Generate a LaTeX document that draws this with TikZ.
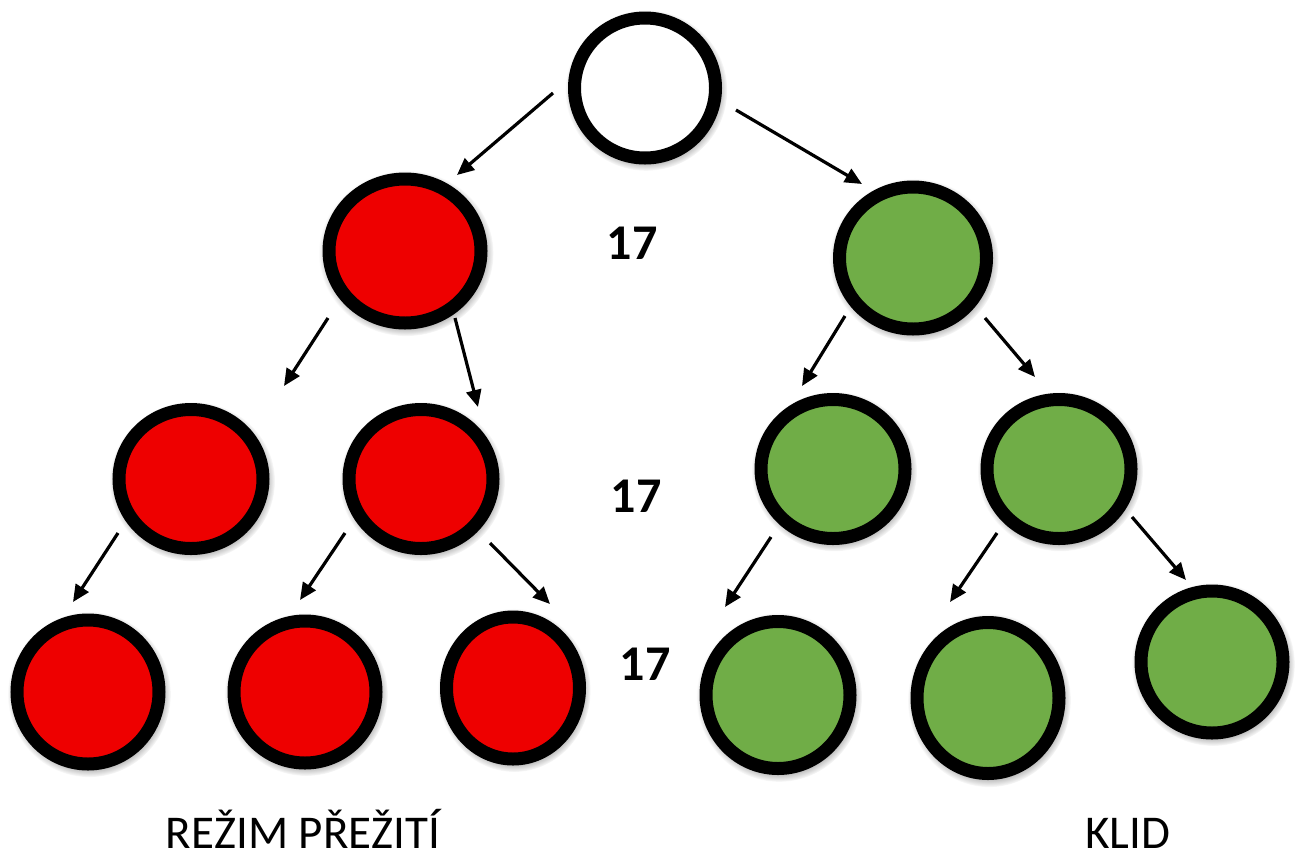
\documentclass[tikz,border=0pt]{standalone}
\usepackage{fontspec}
\setmainfont{Carlito}
\usetikzlibrary{shapes.geometric,shadows,arrows.meta,fadings}
\definecolor{nred}{HTML}{EE0000}
\definecolor{ngreen}{HTML}{70AD47}
\tikzset{
  ball/.style={ellipse, draw=black, line width=13pt, inner sep=0pt,
    circular drop shadow={shadow xshift=1pt, shadow yshift=-2pt, shadow scale=1.15, opacity=0.8}},
  redball/.style={ball, fill=nred},
  greenball/.style={ball, fill=ngreen},
  whiteball/.style={ball, fill=white},
  sz/.style 2 args={minimum width=#1pt, minimum height=#2pt},
  arr/.style={line width=3.2pt, -{Triangle[length=17pt,width=15pt]}},
  num/.style={font=\bfseries\fontsize{50}{54}\selectfont, inner sep=0pt},
  lbl/.style={font=\fontsize{47}{50}\selectfont, inner sep=0pt, anchor=base, text depth=0pt}
}
\begin{document}
\begin{tikzpicture}[x=1pt,y=-1pt]
\useasboundingbox (0,0) rectangle (1301,855);
% level 0
\node[whiteball, sz={141}{140}] (w) at (645,88) {};
% level 1
\node[redball, sz={152}{144}] (r1) at (405,251) {};
\node[greenball, sz={147}{142}] (g1) at (913,258) {};
% level 2
\node[redball, sz={144}{139}] (r2a) at (191,479) {};
\node[redball, sz={144}{139}] (r2b) at (421,479) {};
\node[greenball, sz={144}{139}] (g2a) at (833,469) {};
\node[greenball, sz={144}{139}] (g2b) at (1059,469) {};
% level 3
\node[redball, sz={142}{144}] (r3a) at (88,692) {};
\node[redball, sz={142}{142}] (r3b) at (305,692) {};
\node[redball, sz={133}{142}] (r3c) at (513,688) {};
\node[greenball, sz={144}{147}] (g3a) at (778,695) {};
\node[greenball, sz={142}{151}] (g3b) at (988,698) {};
\node[greenball, sz={142}{142}] (g3c) at (1212,662) {};
% labels
\node[num] (n1) at (632,243) {17};
\node[num] (n2) at (636,496) {17};
\node[num] (n3) at (645,664) {17};
\node[lbl] (t1) at (303,848) {REŽIM PŘEŽITÍ};
\node[lbl] (t2) at (1128,848) {KLID};
% arrow end points
\coordinate (a1s) at (553,93);   \coordinate (a1e) at (457,175);
\coordinate (a2s) at (736,110);  \coordinate (a2e) at (862,184);
\coordinate (a3s) at (328,318);  \coordinate (a3e) at (284,386);
\coordinate (a4s) at (455,318);  \coordinate (a4e) at (478,407);
\coordinate (a5s) at (845,316);  \coordinate (a5e) at (802,386);
\coordinate (a6s) at (985,318);  \coordinate (a6e) at (1035,377);
\coordinate (a7s) at (118,533);  \coordinate (a7e) at (73,602);
\coordinate (a8s) at (345,533);  \coordinate (a8e) at (300,600);
\coordinate (a9s) at (490,543);  \coordinate (a9e) at (550,604);
\coordinate (a10s) at (771,537); \coordinate (a10e) at (725,607);
\coordinate (a11s) at (997,533); \coordinate (a11e) at (950,602);
\coordinate (a12s) at (1132,517);\coordinate (a12e) at (1186,580);
\foreach \i in {1,...,12} { \draw[arr] (a\i s) -- (a\i e); }
\end{tikzpicture}
\end{document}
